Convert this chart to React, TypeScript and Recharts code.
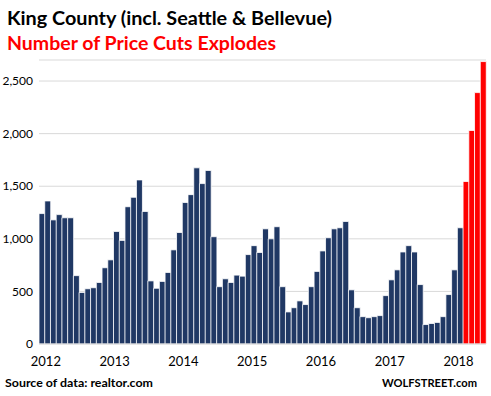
import { Bar, BarChart, CartesianGrid, Cell, XAxis, YAxis } from "recharts"

const years = [2012, 2013, 2014, 2015, 2016, 2017, 2018]

// monthly price cuts, King County
const cuts2012 = [1240, 1360, 1180, 1230, 1200, 1200, 650, 490, 525, 535, 585, 725]
const cuts2013 = [800, 1070, 985, 1305, 1395, 1560, 1260, 600, 530, 595, 680, 895]
const cuts2014 = [1060, 1345, 1420, 1675, 1525, 1650, 1020, 545, 620, 585, 655, 645]
const cuts2015 = [850, 935, 870, 1095, 1000, 1115, 545, 305, 345, 410, 375, 545]
const cuts2016 = [690, 885, 1010, 1095, 1105, 1165, 515, 345, 260, 250, 260, 270]
const cuts2017 = [460, 610, 705, 875, 935, 875, 565, 185, 195, 205, 260, 470]
const cuts2018 = [705, 1105, 1545, 2030, 2390, 2685]

const highlightFrom = "2018-03"
const yTicks = [0, 500, 1000, 1500, 2000, 2500]

const allCuts = [cuts2012, cuts2013, cuts2014, cuts2015, cuts2016, cuts2017, cuts2018]
const data = allCuts.flatMap((vals, i) =>
  vals.map((v, m) => ({
    month: `${years[i]}-${String(m + 1).padStart(2, "0")}`,
    cuts: v,
  }))
)
const yearTicks = years.map((y) => `${y}-01`)

const navy = "#203864"
const red = "#ff0000"

export default function App() {
  return (
    <div style={{ position: "absolute", left: 0, top: 0, width: 491, height: 396, background: "#fff" }}>
      <BarChart
        width={491}
        height={396}
        data={data}
        margin={{ top: 60, right: 5, bottom: 21, left: 0 }}
        barCategoryGap={0}
      >
        <CartesianGrid vertical={false} stroke="#d9d9d9" />
        <XAxis
          dataKey="month"
          ticks={yearTicks}
          interval={0}
          tickFormatter={(v) => v.slice(0, 4)}
          tickLine={false}
          axisLine={{ stroke: "#d9d9d9" }}
          tick={{ fill: "#000", fontSize: 13, fontFamily: "Lato", dx: 4 }}
          tickMargin={7}
          height={31}
        />
        <YAxis
          width={39}
          domain={[0, 2700]}
          ticks={yTicks}
          tickFormatter={(v) => v.toLocaleString("en-US")}
          tickLine={false}
          tickSize={0}
          axisLine={false}
          tick={{ fill: "#000", fontSize: 12, fontFamily: "Lato" }}
          tickMargin={6}
        />
        <Bar dataKey="cuts" stroke="#fff" strokeWidth={0.8} isAnimationActive={false}>
          {data.map((d) => (
            <Cell key={d.month} fill={d.month >= highlightFrom ? red : navy} />
          ))}
        </Bar>
      </BarChart>
      <svg
        width={491}
        height={396}
        style={{ position: "absolute", left: 0, top: 0, pointerEvents: "none" }}
      >
        <text x={7} y={25} fontFamily="Lato" fontWeight="bold" fontSize={19} fill="#000" textLength={325} lengthAdjust="spacingAndGlyphs">
          King County (incl. Seattle &amp; Bellevue)
        </text>
        <text x={7} y={50} fontFamily="Lato" fontWeight="bold" fontSize={19} fill={red} textLength={269} lengthAdjust="spacingAndGlyphs">
          Number of Price Cuts Explodes
        </text>
        <text x={5} y={387} fontFamily="Lato" fontWeight="bold" fontSize={12} fill="#000" textLength={148} lengthAdjust="spacingAndGlyphs">
          Source of data: realtor.com
        </text>
        <text x={382} y={387} fontFamily="Lato" fontWeight="bold" fontSize={12} fill="#000" textLength={95} lengthAdjust="spacingAndGlyphs">
          WOLFSTREET.com
        </text>
      </svg>
    </div>
  )
}
